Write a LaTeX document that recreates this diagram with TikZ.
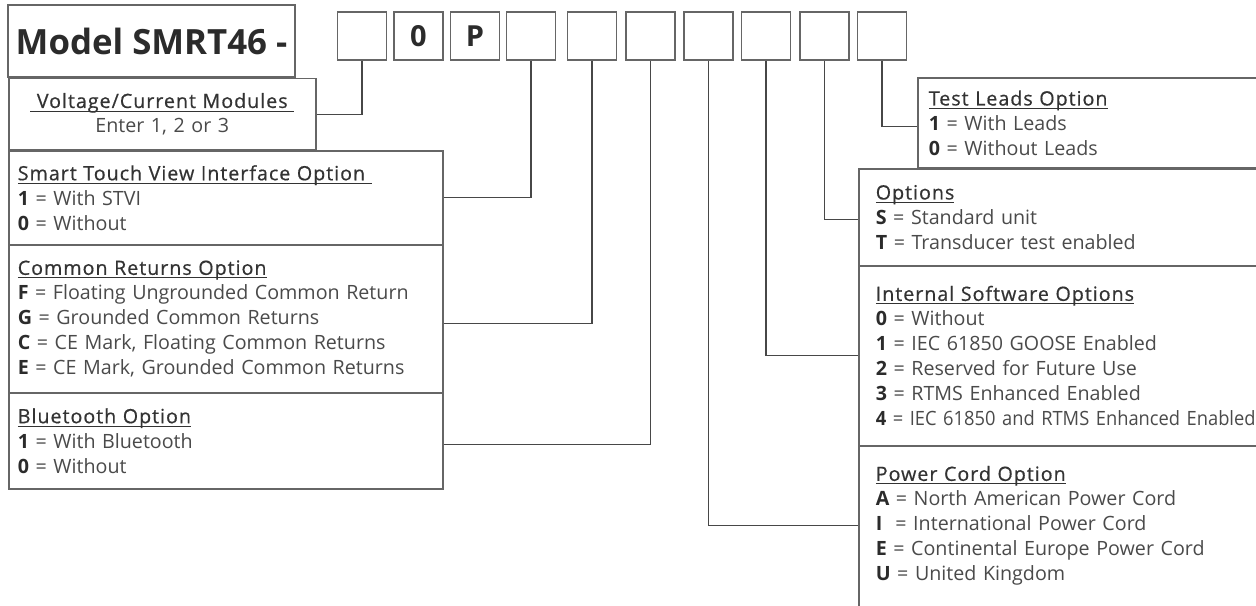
\documentclass[tikz,border=0pt]{standalone}
\usepackage{fontspec}
\setmainfont{Open Sans}
\newfontfamily\ttlfont[LetterSpace=5, FakeBold=0.6]{Open Sans}
\newfontfamily\narrowfont[FakeStretch=0.93]{Open Sans}
\usepackage{tikz}
\usetikzlibrary{positioning}

\definecolor{boxgray}{HTML}{666666}
\definecolor{linegray}{HTML}{474747}
\definecolor{txtgray}{HTML}{4A4A4A}
\definecolor{ttlgray}{HTML}{333333}
\definecolor{codeblack}{HTML}{2B2B2B}

\newcommand{\opt}[2]{{\bfseries\color{codeblack}#1} = #2}
\newcommand{\ttl}[1]{{\ttlfont\color{ttlgray}\setbox0=\hbox{#1}\rlap{\rule[-2pt]{\wd0}{0.5pt}}\box0}}

\begin{document}
\begin{tikzpicture}[
        x=0.02cm, y=-0.02cm,
        every node/.style={font=\fontsize{11.2}{14.2}\selectfont, text=txtgray},
        codebox/.style={draw=boxgray, line width=0.9pt, minimum width=0.98cm, minimum height=0.96cm,
            inner sep=0pt, font=\fontsize{16.5}{16}\selectfont\bfseries, text=codeblack},
        optbox/.style={draw=boxgray, line width=0.9pt, anchor=north west, align=left, inner ysep=0pt},
        link/.style={draw=linegray, line width=0.6pt}
    ]
        \clip (0,0) rectangle (1256,605);

        % header and code boxes
        \node[draw=boxgray, line width=0.9pt, minimum width=5.74cm, minimum height=1.44cm,
            font=\fontsize{19.8}{20}\selectfont\bfseries, text=codeblack] (model) at (151.5,41) {Model SMRT46 -};
        \foreach \x/\d [count=\i] in {362/{},418.5/0,475/P,531/{},592/{},650.5/{},708.5/{},766/{},824.5/{},882/{}}
            \node[codebox] (c\i) at (\x,36) {\d};

        % left side options
        \node[optbox, align=center, inner xsep=0pt, text width=6.14cm, minimum height=1.43cm] (volt) at (8,77.7)
            {\ttl{\ Voltage/Current Modules\ }\\ Enter 1, 2 or 3};
        \node[optbox, inner xsep=0.18cm, text width=8.33cm, minimum height=1.88cm] (stvi) at (8,150)
            {\ttl{Smart Touch View Interface Option\ }\\ \opt{1}{With STVI}\\ \opt{0}{Without}};
        \node[optbox, inner xsep=0.18cm, text width=8.33cm, minimum height=2.96cm] (common) at (8,244)
            {\ttl{Common Returns Option}\\ \opt{F}{Floating Ungrounded Common Return}\\
             \opt{G}{Grounded Common Returns}\\ \opt{C}{CE Mark, Floating Common Returns}\\
             \opt{E}{CE Mark, Grounded Common Returns}};
        \node[optbox, inner xsep=0.18cm, text width=8.33cm, minimum height=1.92cm] (blue) at (8,392)
            {\ttl{Bluetooth Option}\\ \opt{1}{With Bluetooth}\\ \opt{0}{Without}};

        % right side options
        \node[optbox, inner xsep=0.22cm, text width=7cm, minimum height=1.81cm] (leads) at (917,77)
            {\ttl{Test Leads Option}\\ \opt{1}{With Leads}\\ \opt{0}{Without Leads}};
        \node[optbox, inner xsep=0.34cm, text width=8.5cm, minimum height=1.94cm] (opts) at (858,168)
            {\ttl{Options}\\ \opt{S}{Standard unit}\\ \opt{T}{Transducer test enabled}};
        \node[optbox, inner xsep=0.34cm, text width=8.5cm, minimum height=3.6cm] (soft) at (858,265)
            {\ttl{Internal Software Options}\\ \opt{0}{Without}\\ \opt{1}{IEC 61850 GOOSE Enabled}\\
             \opt{2}{Reserved for Future Use}\\ \opt{3}{RTMS Enhanced Enabled}\\
             {\narrowfont\opt{4}{IEC 61850 and RTMS Enhanced Enabled}}};
        \node[optbox, inner xsep=0.34cm, text width=8.5cm, minimum height=3.9cm] (power) at (858,445)
            {\ttl{Power Cord Option}\\ \opt{A}{North American Power Cord}\\
             {\bfseries\color{codeblack}I}\ \ = International Power Cord\\
             \opt{E}{Continental Europe Power Cord}\\ \opt{U}{United Kingdom}\rule[-0.8cm]{0pt}{0pt}};

        % connectors
        \draw[link] (c1.south) |- (volt.east);
        \draw[link] (c4.south) |- (stvi.east);
        \draw[link] (c5.south) |- ([yshift=-0.09cm]common.east);
        \draw[link] (c6.south) |- ([yshift=-0.07cm]blue.east);
        \draw[link] (c7.south) |- ([yshift=0.35cm]power.west);
        \draw[link] (c8.south) |- (soft.west);
        \draw[link] (c9.south) |- ([yshift=-0.05cm]opts.west);
        \draw[link] (c10.south) |- ([yshift=-0.07cm]leads.west);
    \end{tikzpicture}
\end{document}
